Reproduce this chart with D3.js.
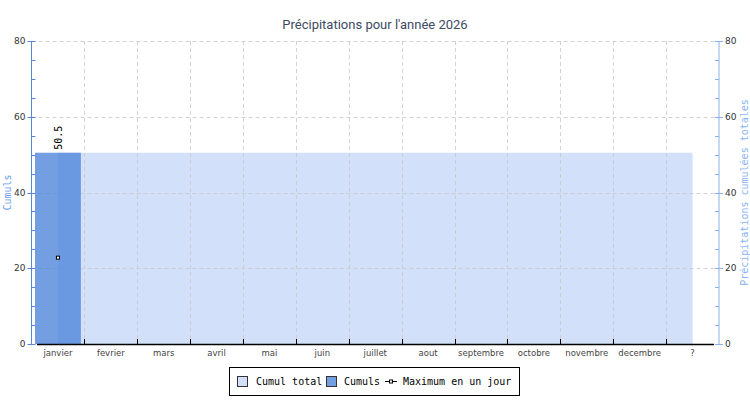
<!DOCTYPE html>
<html>
  <head>
    <script src="https://d3js.org/d3.v7.min.js"></script>
    <style>
      body { margin: 0; background: #fff; }
      svg { display: block; }
    </style>
  </head>
  <body>
    <div id="chart"></div>
  </body>
  <script>
    var width = 750,
        height = 400;

    // data
    var months = ["janvier", "fevrier", "mars", "avril", "mai", "juin", "juillet",
                  "aout", "septembre", "octobre", "novembre", "decembre", "?"];
    var cumulTotal = [50.5, 50.5, 50.5, 50.5, 50.5, 50.5, 50.5, 50.5, 50.5, 50.5, 50.5, 50.5, 50.5];
    var cumuls = [50.5];
    var maxJour = [22.8];
    var yTicks = [0, 20, 40, 60, 80];

    var lightColor = '#d2e0f9',
        barColor = '#5489dc';

    var margin = {left: 31.5, right: 31, top: 41, bottom: 56};

    var svg = d3.select("#chart").append("svg")
        .attr("width", width)
        .attr("height", height);

    var x = d3.scaleBand()
        .domain(months)
        .range([margin.left, width - margin.right]);

    var y = d3.scaleLinear()
        .domain([0, 80])
        .range([height - margin.bottom, margin.top]);

    var x0 = margin.left, x1 = width - margin.right;
    var yb = y(0), yt = y(80);

    // cumul total area (from centre of first band to centre of last)
    var area = d3.area()
        .x(function(d, i) { return x(months[i]) + x.bandwidth() / 2; })
        .y0(yb)
        .y1(function(d) { return y(d); });

    svg.append("path")
        .datum(cumulTotal)
        .attr("d", area)
        .attr("fill", lightColor);

    // grid
    var grid = svg.append("g")
        .attr("stroke", "#c8c8c8")
        .attr("stroke-dasharray", "4,3")
        .attr("stroke-opacity", 0.8);

    grid.selectAll("line.h")
      .data(yTicks.slice(1))
      .enter().append("line")
        .attr("x1", x0).attr("x2", x1)
        .attr("y1", function(d) { return Math.round(y(d)) + 0.5; })
        .attr("y2", function(d) { return Math.round(y(d)) + 0.5; });

    grid.selectAll("line.v")
      .data(months.slice(1))
      .enter().append("line")
        .attr("x1", function(d) { return Math.round(x(d)) + 0.5; })
        .attr("x2", function(d) { return Math.round(x(d)) + 0.5; })
        .attr("y1", yt).attr("y2", yb);

    // cumuls bars
    svg.selectAll("rect.bar")
      .data(cumuls)
      .enter().append("rect")
        .attr("class", "bar")
        .attr("x", function(d, i) { return x(months[i]) + 3.5; })
        .attr("width", x.bandwidth() - 7)
        .attr("y", function(d) { return y(d); })
        .attr("height", function(d) { return yb - y(d); })
        .attr("fill", barColor)
        .attr("fill-opacity", 0.82);

    svg.selectAll("text.val")
      .data(cumuls)
      .enter().append("text")
        .attr("transform", function(d, i) {
          return "translate(" + (x(months[i]) + x.bandwidth() / 2 + 4) + "," + (y(d) - 3) + ") rotate(-90)";
        })
        .style("font-family", "DejaVu Sans Mono")
        .style("font-size", "10px")
        .attr("fill", "#000")
        .text(function(d) { return d; });

    // max markers
    svg.selectAll("rect.max")
      .data(maxJour)
      .enter().append("rect")
        .attr("x", function(d, i) { return x(months[i]) + x.bandwidth() / 2 - 1.5; })
        .attr("y", function(d) { return y(d) - 1.5; })
        .attr("width", 3).attr("height", 3)
        .attr("fill", "#fff")
        .attr("stroke", "#000")
        .attr("stroke-width", 1);

    // x axis
    svg.append("line")
        .attr("x1", 37).attr("x2", 714)
        .attr("y1", yb + 0.5).attr("y2", yb + 0.5)
        .attr("stroke", "#000").attr("stroke-width", 1.5);

    svg.selectAll("line.xt")
      .data(months.slice(1))
      .enter().append("line")
        .attr("x1", function(d) { return Math.round(x(d)) + 0.5; })
        .attr("x2", function(d) { return Math.round(x(d)) + 0.5; })
        .attr("y1", yb - 5).attr("y2", yb)
        .attr("stroke", "#000");

    svg.selectAll("text.xl")
      .data(months)
      .enter().append("text")
        .attr("x", function(d) { return x(d) + x.bandwidth() / 2; })
        .attr("y", yb + 12)
        .attr("text-anchor", "middle")
        .style("font-family", "DejaVu Sans")
        .style("font-size", "8.5px")
        .attr("fill", "#444")
        .text(function(d) { return d; });

    // y axes
    var minor = d3.range(0, 81, 5);

    function drawYAxis(xPos, color, side) {
      var g = svg.append("g").attr("stroke", color);
      g.append("line")
        .attr("x1", xPos).attr("x2", xPos)
        .attr("y1", yt).attr("y2", yb);
      g.selectAll("line.t")
        .data(minor)
        .enter().append("line")
          .attr("x1", function(d) { return d % 20 === 0 ? xPos - 4 : xPos; })
          .attr("x2", function(d) { return d % 20 === 0 ? xPos + 4 : xPos + 4 * side; })
          .attr("y1", function(d) { return Math.round(y(d)) + 0.5; })
          .attr("y2", function(d) { return Math.round(y(d)) + 0.5; });
      svg.selectAll(null)
        .data(yTicks)
        .enter().append("text")
          .attr("x", side > 0 ? xPos - 6 : xPos + 6)
          .attr("y", function(d) { return y(d) + 3; })
          .attr("text-anchor", side > 0 ? "end" : "start")
          .style("font-family", "DejaVu Sans")
          .style("font-size", "9px")
          .attr("fill", "#333")
          .text(function(d) { return d; });
    }

    drawYAxis(x0, "#5b86d6", 1);
    drawYAxis(x1, "#8ab0f0", -1);

    svg.append("text")
        .attr("transform", "translate(11," + ((yt + yb) / 2) + ") rotate(-90)")
        .attr("text-anchor", "middle")
        .style("font-family", "DejaVu Sans Mono")
        .style("font-size", "10px")
        .attr("fill", "#6d9eeb")
        .text("Cumuls");

    svg.append("text")
        .attr("transform", "translate(748," + ((yt + yb) / 2) + ") rotate(-90)")
        .attr("text-anchor", "middle")
        .style("font-family", "DejaVu Sans Mono")
        .style("font-size", "10px")
        .attr("fill", "#8ab4f8")
        .text("Précipitations cumulées totales");

    // title
    svg.append("text")
        .attr("x", width / 2)
        .attr("y", 29)
        .attr("text-anchor", "middle")
        .style("font-family", "Roboto")
        .style("font-size", "13px")
        .attr("fill", "#3d4a63")
        .text("Précipitations pour l'année 2026");

    // legend
    var legend = svg.append("g")
        .style("font-family", "DejaVu Sans Mono")
        .style("font-size", "10px");

    legend.append("rect")
        .attr("x", 229.5).attr("y", 367.5)
        .attr("width", 290).attr("height", 28)
        .attr("fill", "#fff").attr("stroke", "#000");

    legend.append("rect")
        .attr("x", 237.5).attr("y", 376.5).attr("width", 10).attr("height", 10)
        .attr("fill", lightColor).attr("stroke", "#333");
    legend.append("text").attr("x", 256).attr("y", 385).text("Cumul total");

    legend.append("rect")
        .attr("x", 326.5).attr("y", 376.5).attr("width", 10).attr("height", 10)
        .attr("fill", barColor).attr("fill-opacity", 0.82).attr("stroke", "#333");
    legend.append("text").attr("x", 344).attr("y", 385).text("Cumuls");

    legend.append("line")
        .attr("x1", 385).attr("x2", 397)
        .attr("y1", 381.5).attr("y2", 381.5)
        .attr("stroke", "#000");
    legend.append("rect")
        .attr("x", 389.5).attr("y", 380).attr("width", 3).attr("height", 3)
        .attr("fill", "#fff").attr("stroke", "#000");
    legend.append("text").attr("x", 403).attr("y", 385).text("Maximum en un jour");
  </script>
</html>
